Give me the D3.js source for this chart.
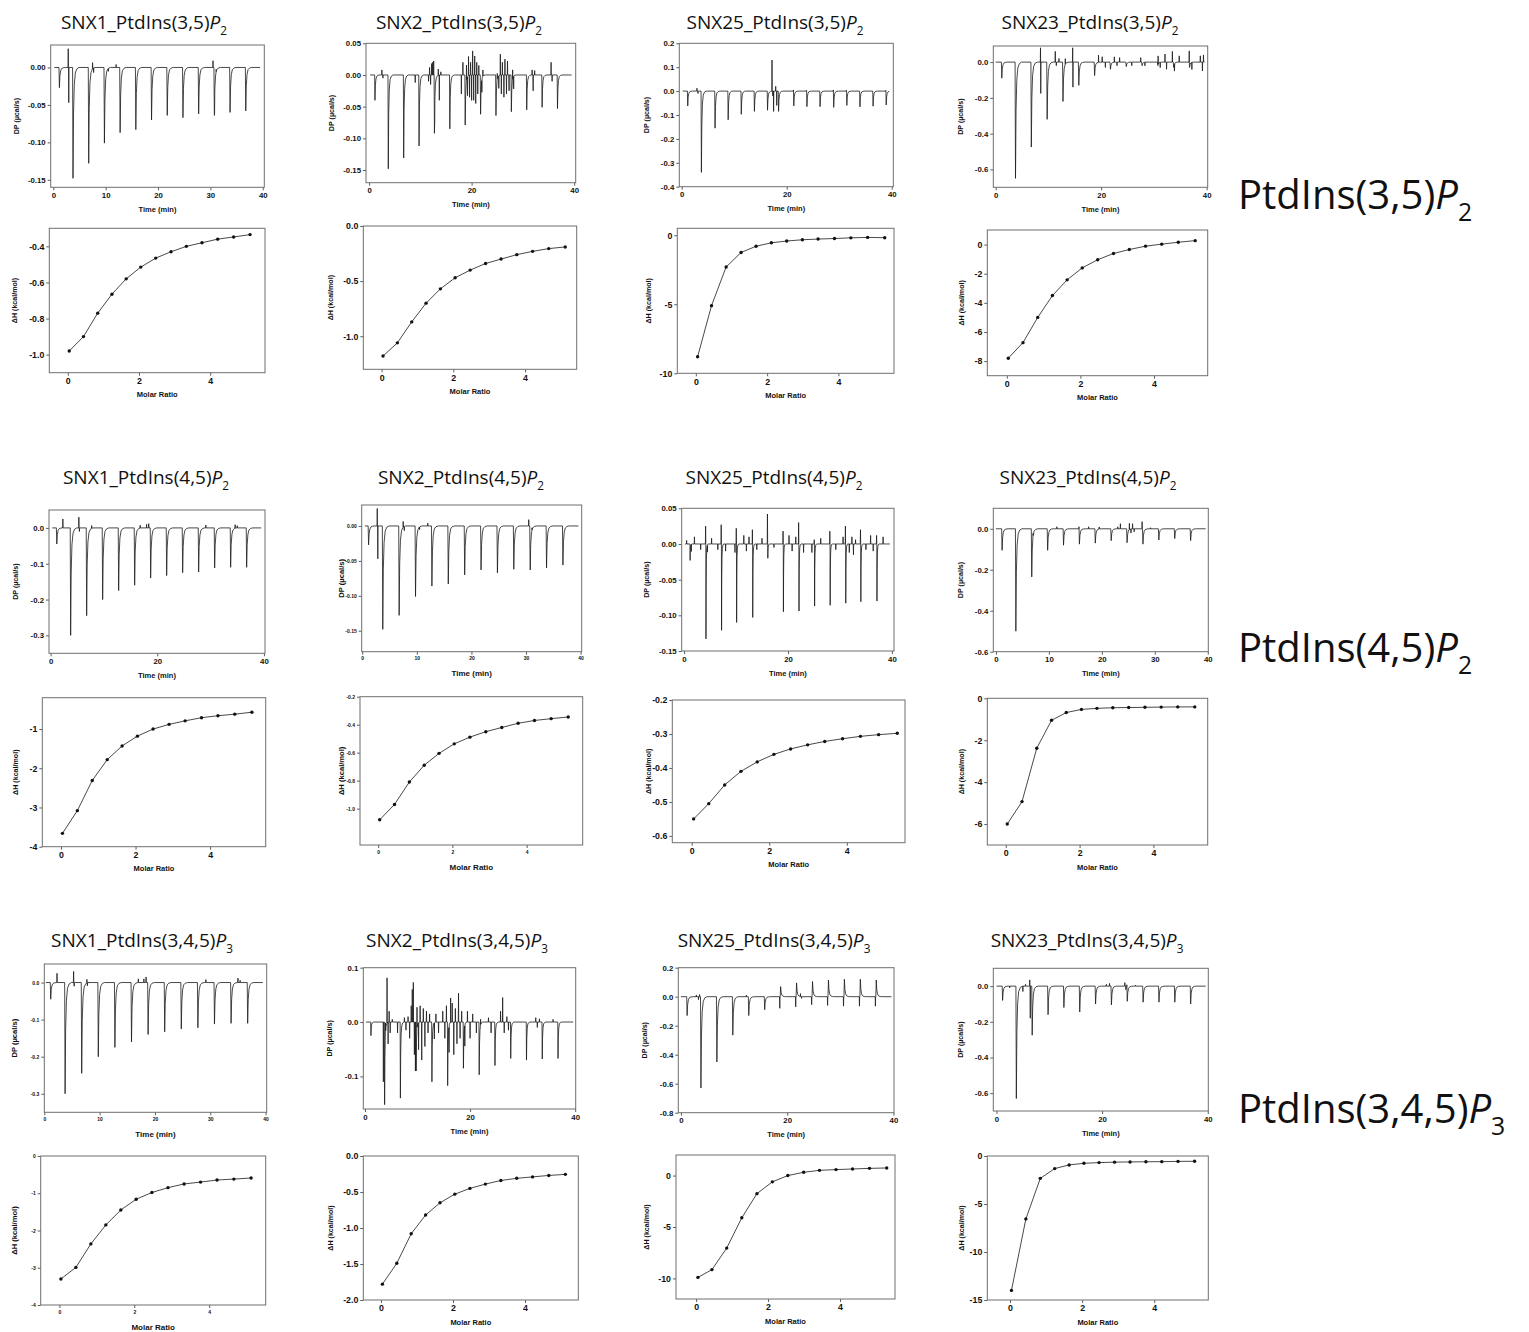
<!DOCTYPE html>
<html>
<head>
<meta charset="utf-8">
<script src="https://cdn.jsdelivr.net/npm/d3@7"></script>
<style>
  body { margin: 0; background: #fff; }
  svg { display: block; }
</style>
</head>
<body>
<svg id="fig" width="1529" height="1332"></svg>
<script>
// ---------------------------------------------------------------
// Injection schedules (min)
const injTimes = [1.1, 3.7, 6.7, 9.7, 12.7, 15.7, 18.7, 21.7, 24.7, 27.7, 30.7, 33.7, 36.7];
const injTimesSNX25_35 = [1.1, 3.7, 6.3, 8.8, 11.3, 13.8, 16.3, 18.4, 21.3, 23.8, 26.3, 28.9, 31.4, 33.9, 36.4, 38.9];
const injTimesSNX25_45 = [1.15, 4.2, 7.2, 10.1, 13.2, 16.1, 19.1, 22.1, 25.1, 28.1, 31.1, 34.0, 37.1];

// Molar ratio of each integrated injection
const molarRatio      = [0.04, 0.44, 0.84, 1.24, 1.64, 2.05, 2.47, 2.90, 3.33, 3.77, 4.21, 4.66, 5.12];
const molarRatioSNX25 = [0.05, 0.44, 0.85, 1.27, 1.69, 2.12, 2.55, 2.99, 3.43, 3.89, 4.35, 4.82, 5.30];

// Raw DP peak heights per injection (µcal/s)
const dpSNX1_35  = [-0.027, -0.148, -0.128, -0.101, -0.087, -0.083, -0.070, -0.064, -0.067, -0.062, -0.064, -0.060, -0.058];
const dpSNX2_35  = [-0.040, -0.148, -0.131, -0.112, -0.092, -0.085, -0.079, -0.062, -0.064, -0.058, -0.055, -0.051, -0.053];
const dpSNX25_35 = [-0.062, -0.340, -0.155, -0.120, -0.097, -0.085, -0.080, -0.085, -0.062, -0.065, -0.065, -0.068, -0.060, -0.066, -0.063, -0.058];
const dpSNX23_35 = [-0.090, -0.650, -0.475, -0.320, -0.220, -0.130, -0.075, -0.040, -0.025, -0.020, -0.020, -0.030, -0.030];
const dpSNX1_45  = [-0.045, -0.300, -0.245, -0.200, -0.175, -0.160, -0.140, -0.133, -0.125, -0.123, -0.112, -0.110, -0.110];
const dpSNX2_45  = [-0.027, -0.148, -0.128, -0.101, -0.086, -0.083, -0.070, -0.063, -0.067, -0.062, -0.063, -0.060, -0.056];
const dpSNX25_45 = [-0.023, -0.133, -0.121, -0.110, -0.103, -0.020, -0.095, -0.094, -0.087, -0.086, -0.083, -0.081, -0.080];
const dpSNX23_45 = [-0.105, -0.500, -0.235, -0.105, -0.080, -0.075, -0.070, -0.058, -0.068, -0.075, -0.055, -0.048, -0.058];
const dpSNX1_345  = [-0.045, -0.300, -0.245, -0.200, -0.175, -0.160, -0.140, -0.133, -0.125, -0.122, -0.112, -0.110, -0.110];
const dpSNX2_345  = [-0.025, -0.152, -0.140, -0.090, -0.110, -0.117, -0.085, -0.097, -0.080, -0.067, -0.070, -0.068, -0.067];
const dpSNX25_345 = [-0.130, -0.630, -0.450, -0.265, -0.130, -0.090, 0.070, 0.095, 0.105, 0.115, 0.120, 0.120, 0.115];
const dpSNX23_345 = [-0.080, -0.630, -0.275, -0.160, -0.120, -0.145, -0.100, -0.105, -0.085, -0.090, -0.090, -0.090, -0.100];

// Mixing spikes and baseline excursions [time (min), DP (µcal/s)]
const spkSNX1_35 = [[2.85, 0.025], [2.95, -0.047], [7.5, 0.008], [7.7, -0.006], [10.5, -0.004], [12.0, 0.004], [30.5, 0.009], [30.8, -0.012], [31.1, 0.004]];
const spkSNX2_35 = [[2.5, 0.008], [2.7, -0.005], [9.0, -0.012], [11.6, -0.01], [11.8, 0.012], [12.0, -0.015], [12.2, 0.018], [12.4, 0.02], [12.6, 0.022], [12.8, -0.02], [13.5, 0.01], [13.7, -0.04], [14.0, 0.005],
  [18.0, -0.03], [18.3, 0.02], [19.0, 0.025], [19.2, -0.03], [19.4, 0.03], [19.6, -0.035], [19.8, 0.02], [20.0, -0.04], [20.2, 0.038], [20.4, -0.04], [20.6, 0.03], [20.8, -0.045], [21.0, 0.02], [21.2, -0.03], [21.4, 0.015], [22.0, -0.02], [22.2, 0.01],
  [25.0, 0.01], [25.3, -0.02], [25.6, 0.033], [25.8, -0.03], [26.0, 0.02], [26.3, -0.035], [26.5, 0.025], [26.8, -0.03], [27.0, 0.022], [27.3, -0.025], [28.0, 0.015], [28.2, -0.02],
  [31.8, 0.008], [32.0, -0.025], [32.3, 0.007], [35.5, 0.02], [35.7, -0.01]];
const spkSNX25_35 = [[2.9, 0.012], [3.1, -0.01], [17.2, 0.13], [17.35, -0.02], [17.5, -0.085], [17.9, 0.02], [18.1, -0.06], [21.3, 0.008], [23.8, 0.005], [28.9, 0.008], [31.4, 0.006], [38.9, 0.005]];
const spkSNX23_35 = [[8.5, 0.08], [8.55, -0.175], [11.3, 0.06], [11.5, -0.02], [12.0, 0.02], [13.2, 0.03], [14.6, 0.08], [14.65, -0.14], [19.5, 0.04], [20.2, 0.03], [20.8, -0.03], [22.5, 0.03], [23.0, -0.02], [23.5, 0.025], [25.8, -0.02], [27.5, 0.025], [28.3, -0.02],
  [30.8, 0.05], [31.2, -0.03], [32.1, 0.045], [32.4, -0.04], [33.5, 0.06], [33.9, -0.04], [34.8, 0.035], [36.7, 0.07], [37.2, -0.04], [38.8, 0.035], [39.2, -0.05], [39.4, 0.04]];
const spkSNX1_45 = [[2.3, 0.025], [5.3, 0.03], [5.4, -0.01], [7.7, 0.008], [16.8, 0.008], [18.0, 0.01], [18.4, 0.012], [29.1, 0.008], [34.6, 0.01], [35.0, 0.006]];
const spkSNX2_45 = [[2.75, 0.025], [2.85, -0.047], [7.5, 0.008], [7.7, -0.006], [10.5, -0.004], [12.0, 0.004], [30.5, 0.009], [30.8, -0.012], [31.1, 0.004]];
const spkSNX25_45 = [[4.15, 0.025], [7.15, 0.027], [10.05, 0.022], [13.15, 0.02], [16.05, 0.042], [19.05, 0.018], [22.05, 0.03], [25.05, 0.006], [28.05, 0.018], [31.05, 0.025], [33.95, 0.02], [37.05, 0.012],
  [0.5, 0.005], [1.4, -0.01], [2.0, 0.01], [3.2, -0.008], [4.5, -0.01], [5.3, 0.008], [6.5, -0.008], [8.0, -0.01], [9.8, -0.012], [11.5, 0.012], [12.0, -0.01], [12.5, 0.01], [14.0, -0.008], [15.0, 0.008],
  [17.3, -0.005], [20.2, 0.012], [20.8, -0.01], [21.5, 0.01], [23.0, -0.012], [24.6, -0.012], [26.3, 0.008], [29.2, -0.008], [30.6, 0.01], [31.8, -0.012], [32.3, 0.01], [32.6, -0.015], [33.0, 0.006], [35.0, -0.008], [35.9, 0.012], [36.4, -0.01], [38.3, 0.01]];
const spkSNX23_45 = [[7.0, 0.015], [11.5, 0.01], [15.7, 0.02], [17.5, 0.01], [19.5, 0.01], [23.0, 0.01], [23.5, 0.025], [25.2, 0.03], [25.5, -0.02], [25.8, 0.025], [26.1, -0.015], [27.6, 0.035], [29.2, 0.005]];
const spkSNX1_345 = [[2.3, 0.025], [5.3, 0.03], [5.4, -0.01], [7.7, 0.01], [7.8, -0.008], [17.0, 0.01], [18.0, 0.01], [18.4, 0.015], [29.2, 0.008], [35.0, 0.012], [35.4, 0.006]];
const spkSNX2_345 = [[3.5, -0.11], [3.9, 0.02], [4.2, 0.083], [4.4, -0.04], [4.6, 0.02], [4.8, -0.02], [5.2, 0.005], [6.2, -0.02], [7.5, 0.008], [7.8, -0.015], [8.2, 0.01], [8.5, -0.03], [8.8, 0.03], [9.0, 0.06], [9.2, 0.073], [9.4, -0.06], [9.6, -0.09],
  [9.9, 0.04], [10.2, -0.05], [10.5, 0.03], [10.8, -0.07], [11.1, 0.025], [11.4, -0.045], [11.7, 0.02], [12.0, -0.02], [12.3, 0.015], [13.2, -0.03], [13.5, 0.015], [14.0, -0.02], [14.8, 0.02], [15.2, -0.03], [15.5, 0.03],
  [16.0, -0.05], [16.3, 0.045], [16.6, 0.035], [16.9, -0.06], [17.2, 0.025], [17.5, -0.04], [17.8, 0.053], [18.1, -0.03], [18.4, 0.02], [19.0, -0.04], [19.5, 0.02], [20.0, -0.03], [20.5, 0.015], [21.2, -0.02], [22.0, 0.01],
  [23.5, 0.008], [24.0, -0.02], [25.8, 0.02], [26.2, 0.045], [26.5, -0.02], [27.0, 0.01], [27.3, -0.015], [32.5, 0.008], [32.8, -0.01], [33.2, 0.006], [35.8, 0.005]];
const spkSNX25_345 = [[2.9, 0.012], [3.3, -0.02], [3.5, 0.015], [12.3, 0.01], [18.6, -0.08], [21.6, -0.07], [24.6, -0.055], [27.6, -0.06], [30.6, -0.065], [33.6, -0.065], [36.6, -0.065], [22.5, 0.02], [22.7, -0.012]];
const spkSNX23_345 = [[2.5, -0.01], [5.0, -0.03], [5.5, 0.01], [6.3, 0.035], [6.4, -0.18], [9.8, -0.02], [20.8, 0.01], [21.4, 0.015], [24.3, 0.02], [24.5, -0.02], [24.7, 0.015], [26.3, 0.005]];

// Integrated heats (kcal/mol of injectant)
const dhSNX1_35  = [-0.98, -0.90, -0.77, -0.665, -0.58, -0.515, -0.465, -0.43, -0.40, -0.38, -0.36, -0.348, -0.335];
const dhSNX2_35  = [-1.18, -1.06, -0.87, -0.70, -0.57, -0.47, -0.40, -0.34, -0.30, -0.26, -0.23, -0.205, -0.19];
const dhSNX25_35 = [-8.8, -5.1, -2.3, -1.25, -0.80, -0.55, -0.42, -0.33, -0.28, -0.24, -0.19, -0.16, -0.18];
const dhSNX23_35 = [-7.8, -6.73, -5.0, -3.5, -2.42, -1.6, -1.04, -0.61, -0.34, -0.11, 0.03, 0.16, 0.27];
const dhSNX1_45  = [-3.66, -3.08, -2.31, -1.78, -1.43, -1.18, -1.0, -0.88, -0.79, -0.71, -0.66, -0.62, -0.57];
const dhSNX2_45  = [-1.08, -0.97, -0.81, -0.69, -0.605, -0.537, -0.489, -0.45, -0.42, -0.39, -0.37, -0.357, -0.345];
const dhSNX25_45 = [-0.55, -0.505, -0.45, -0.41, -0.382, -0.36, -0.344, -0.332, -0.322, -0.314, -0.307, -0.302, -0.298];
const dhSNX23_45 = [-6.0, -4.93, -2.38, -1.05, -0.68, -0.53, -0.48, -0.45, -0.44, -0.43, -0.42, -0.41, -0.41];
const dhSNX1_345  = [-3.30, -2.99, -2.36, -1.85, -1.45, -1.16, -0.98, -0.85, -0.75, -0.70, -0.645, -0.62, -0.59];
const dhSNX2_345  = [-1.78, -1.49, -1.08, -0.82, -0.65, -0.53, -0.45, -0.39, -0.34, -0.31, -0.29, -0.27, -0.255];
const dhSNX25_345 = [-9.9, -9.14, -7.05, -4.1, -1.76, -0.61, 0.0, 0.32, 0.51, 0.58, 0.64, 0.70, 0.74];
const dhSNX23_345 = [-14.0, -6.55, -2.33, -1.31, -0.93, -0.76, -0.69, -0.64, -0.62, -0.60, -0.59, -0.56, -0.55];

// Tick values
const timeTicks10 = [0, 10, 20, 30, 40];
const timeTicks20 = [0, 20, 40];
const ratioTicks = [0, 2, 4];
const dpTicksA = [0, -0.05, -0.10, -0.15];
const dpTicksB = [0.05, 0, -0.05, -0.10, -0.15];
const dpTicksC = [0.2, 0.1, 0, -0.1, -0.2, -0.3, -0.4];
const dpTicksD = [0, -0.2, -0.4, -0.6];
const dpTicksE = [0, -0.1, -0.2, -0.3];
const dpTicksF = [0.1, 0, -0.1];
const dpTicksG = [0.2, 0, -0.2, -0.4, -0.6, -0.8];
const dhTicksSNX1_35 = [-0.4, -0.6, -0.8, -1.0];
const dhTicksSNX2_35 = [0, -0.5, -1.0];
const dhTicksSNX25_35 = [0, -5, -10];
const dhTicksSNX23_35 = [0, -2, -4, -6, -8];
const dhTicksSNX1_45 = [-1, -2, -3, -4];
const dhTicksSNX2_45 = [-0.2, -0.4, -0.6, -0.8, -1.0];
const dhTicksSNX25_45 = [-0.2, -0.3, -0.4, -0.5, -0.6];
const dhTicksSNX23_45 = [0, -2, -4, -6];
const dhTicksSNX1_345 = [0, -1, -2, -3, -4];
const dhTicksSNX2_345 = [0, -0.5, -1.0, -1.5, -2.0];
const dhTicksSNX25_345 = [0, -5, -10];
const dhTicksSNX23_345 = [0, -5, -10, -15];

// Row labels
const lipidLabels = [["PtdIns(3,5)", "2"], ["PtdIns(4,5)", "2"], ["PtdIns(3,4,5)", "3"]];

// ---------------------------------------------------------------
// Panel layout: plot boxes [x0, y0, x1, y1] and axis domains
const panels = [
  { title: "SNX1_PtdIns(3,5)", sub: "2", tx: 144, ty: 29,
    times: injTimes, dp: dpSNX1_35, spk: spkSNX1_35, mr: molarRatio, dh: dhSNX1_35, span: [0.2, 39.5],
    dpBox: [50.7, 45, 264.3, 187.3], dpX: [-0.5, 40.3], dpY: [-0.16, 0.03], dpXT: timeTicks10, dpYT: dpTicksA, dpFmt: ".2f",
    dhBox: [49.3, 228.3, 265, 372.7], dhX: [-0.52, 5.54], dhY: [-1.1, -0.3], dhYT: dhTicksSNX1_35, dhFmt: ".1f",
    labX: [16.7, 15], fs: [7.8, 8.8] },
  { title: "SNX2_PtdIns(3,5)", sub: "2", tx: 459, ty: 29, pw: 0.8,
    times: injTimes, dp: dpSNX2_35, spk: spkSNX2_35, mr: molarRatio, dh: dhSNX2_35, span: [0.2, 39.5],
    dpBox: [366, 43.3, 575.7, 182.7], dpX: [-0.6, 40.3], dpY: [-0.17, 0.05], dpXT: timeTicks20, dpYT: dpTicksB, dpFmt: ".2f",
    dhBox: [363.3, 226, 576.7, 369.3], dhX: [-0.51, 5.44], dhY: [-1.3, 0], dhYT: dhTicksSNX2_35, dhFmt: ".1f",
    labX: [331.7, 330.7], fs: [7.8, 8.8] },
  { title: "SNX25_PtdIns(3,5)", sub: "2", tx: 775, ty: 29, pw: 0.8,
    times: injTimesSNX25_35, dp: dpSNX25_35, spk: spkSNX25_35, mr: molarRatioSNX25, dh: dhSNX25_35, span: [0.2, 39.5],
    dpBox: [679.3, 43.3, 893.3, 186.7], dpX: [-0.46, 40.3], dpY: [-0.4, 0.2], dpXT: timeTicks20, dpYT: dpTicksC, dpFmt: ".1f",
    dhBox: [677.3, 228.3, 894, 373.3], dhX: [-0.52, 5.56], dhY: [-10, 0.5], dhYT: dhTicksSNX25_35, dhFmt: "d",
    labX: [647.3, 649.3], fs: [7.8, 8.8] },
  { title: "SNX23_PtdIns(3,5)", sub: "2", tx: 1090, ty: 29,
    times: injTimes, dp: dpSNX23_35, spk: spkSNX23_35, mr: molarRatio, dh: dhSNX23_35, span: [0.0, 39.6],
    dpBox: [993.3, 46, 1207.7, 187.3], dpX: [-0.45, 40.2], dpY: [-0.7, 0.09], dpXT: timeTicks20, dpYT: dpTicksD, dpFmt: ".1f",
    dhBox: [987.3, 230, 1207.7, 375.7], dhX: [-0.53, 5.46], dhY: [-9, 1], dhYT: dhTicksSNX23_35, dhFmt: "d",
    labX: [960.7, 961.7], fs: [7.8, 8.8] },

  { title: "SNX1_PtdIns(4,5)", sub: "2", tx: 146, ty: 484,
    times: injTimes, dp: dpSNX1_45, spk: spkSNX1_45, mr: molarRatio, dh: dhSNX1_45, span: [0.3, 39.5],
    dpBox: [49, 510, 265, 653.3], dpX: [-0.3, 40.2], dpY: [-0.35, 0.05], dpXT: timeTicks20, dpYT: dpTicksE, dpFmt: ".1f",
    dhBox: [42.3, 697.7, 265.7, 846.7], dhX: [-0.5, 5.49], dhY: [-4, -0.2], dhYT: dhTicksSNX1_45, dhFmt: "d",
    labX: [16, 16], fs: [7.8, 8.8] },
  { title: "SNX2_PtdIns(4,5)", sub: "2", tx: 461, ty: 484,
    times: injTimes, dp: dpSNX2_45, spk: spkSNX2_45, mr: molarRatio, dh: dhSNX2_45, span: [0.5, 39.6],
    dpBox: [361.7, 505, 581.7, 651.7], dpX: [-0.1, 40.2], dpY: [-0.18, 0.03], dpXT: timeTicks10, dpYT: dpTicksA, dpFmt: ".2f",
    dhBox: [360, 696.7, 582.7, 845], dhX: [-0.49, 5.51], dhY: [-1.26, -0.2], dhYT: dhTicksSNX2_45, dhFmt: ".1f",
    labX: [341.7, 341.7], fs: [5, 5], axFs: 8 },
  { title: "SNX25_PtdIns(4,5)", sub: "2", tx: 774, ty: 484, pw: 0.35,
    times: injTimesSNX25_45, dp: dpSNX25_45, spk: spkSNX25_45, mr: molarRatioSNX25, dh: dhSNX25_45, span: [0.2, 39.6],
    dpBox: [681.7, 508.3, 894, 651], dpX: [-0.45, 40.4], dpY: [-0.15, 0.05], dpXT: timeTicks20, dpYT: dpTicksB, dpFmt: ".2f",
    dhBox: [672.3, 700, 905, 842.7], dhX: [-0.5, 5.5], dhY: [-0.62, -0.2], dhYT: dhTicksSNX25_45, dhFmt: ".1f",
    labX: [646.7, 649], fs: [7.8, 8.8] },
  { title: "SNX23_PtdIns(4,5)", sub: "2", tx: 1088, ty: 484,
    times: injTimes, dp: dpSNX23_45, spk: spkSNX23_45, mr: molarRatio, dh: dhSNX23_45, span: [0.0, 39.6],
    dpBox: [993.3, 508.3, 1208.3, 651.7], dpX: [-0.5, 40.1], dpY: [-0.6, 0.1], dpXT: timeTicks10, dpYT: dpTicksD, dpFmt: ".1f",
    dhBox: [987.3, 698.3, 1207.7, 845], dhX: [-0.5, 5.47], dhY: [-7, 0], dhYT: dhTicksSNX23_45, dhFmt: "d",
    labX: [960.7, 961.7], fs: [7.8, 8.8] },

  { title: "SNX1_PtdIns(3,4,5)", sub: "3", tx: 142, ty: 947,
    times: injTimes, dp: dpSNX1_345, spk: spkSNX1_345, mr: molarRatio, dh: dhSNX1_345, span: [0.3, 39.5],
    dpBox: [44.3, 964, 266.7, 1112.3], dpX: [0, 40.2], dpY: [-0.35, 0.05], dpXT: timeTicks10, dpYT: dpTicksE, dpFmt: ".1f",
    dhBox: [40.7, 1156, 265.7, 1305], dhX: [-0.5, 5.51], dhY: [-4, 0], dhYT: dhTicksSNX1_345, dhFmt: "d",
    labX: [15, 15], fs: [5, 5], axFs: 8 },
  { title: "SNX2_PtdIns(3,4,5)", sub: "3", tx: 457, ty: 947, pw: 0.6,
    times: injTimes, dp: dpSNX2_345, spk: spkSNX2_345, mr: molarRatio, dh: dhSNX2_345, span: [0.2, 39.6],
    dpBox: [363.3, 967.7, 575.7, 1109], dpX: [-0.32, 40.1], dpY: [-0.16, 0.1], dpXT: timeTicks20, dpYT: dpTicksF, dpFmt: ".1f",
    dhBox: [363.3, 1156, 578.3, 1300], dhX: [-0.49, 5.48], dhY: [-2, 0], dhYT: dhTicksSNX2_345, dhFmt: ".1f",
    labX: [330, 330.7], fs: [7.8, 8.8] },
  { title: "SNX25_PtdIns(3,4,5)", sub: "3", tx: 774, ty: 947,
    times: injTimes, dp: dpSNX25_345, spk: spkSNX25_345, mr: molarRatioSNX25, dh: dhSNX25_345, span: [0.0, 39.6],
    dpBox: [678.3, 967.7, 894, 1112.7], dpX: [-0.5, 40.1], dpY: [-0.8, 0.2], dpXT: timeTicks20, dpYT: dpTicksG, dpFmt: ".1f",
    dhBox: [676, 1155, 895, 1299], dhX: [-0.56, 5.53], dhY: [-12, 2], dhYT: dhTicksSNX25_345, dhFmt: "d",
    labX: [645, 646.7], fs: [7.8, 8.8] },
  { title: "SNX23_PtdIns(3,4,5)", sub: "3", tx: 1087, ty: 947,
    times: injTimes, dp: dpSNX23_345, spk: spkSNX23_345, mr: molarRatio, dh: dhSNX23_345, span: [0.0, 39.6],
    dpBox: [993.3, 968.3, 1208.3, 1111], dpX: [-0.6, 40.1], dpY: [-0.7, 0.1], dpXT: timeTicks20, dpYT: dpTicksD, dpFmt: ".1f",
    dhBox: [987.3, 1156, 1208.3, 1300], dhX: [-0.63, 5.5], dhY: [-15, 0], dhYT: dhTicksSNX23_345, dhFmt: "d",
    labX: [960.7, 961.7], fs: [7.8, 8.8] }
];

const rowLabelPos = [[1238, 209], [1238, 662], [1238, 1123]];

// ---------------------------------------------------------------
const svg = d3.select("#fig");
const AXIS_FONT = '"Liberation Sans", Arial, Helvetica, sans-serif';
const TITLE_FONT = '"Open Sans", "Noto Sans", sans-serif';

// Shape of one injection peak (fast rise, quick return) and of a mixing spike; times in min
const PEAK_SHAPE = [[-0.02, 0], [0.06, 1], [0.16, 0.42], [0.3, 0.16], [0.5, 0.05], [0.8, 0.012], [1.2, 0]];
const SPIKE_SHAPE = [[-0.04, 0], [0, 1], [0.04, 0]];

function place(t0, v, shape, w) { return shape.map(([dt, f]) => [t0 + dt * w, v * f]); }
function evalPiecewise(ev, t) {
  if (t <= ev[0][0] || t >= ev[ev.length - 1][0]) return 0;
  for (let i = 1; i < ev.length; i++) {
    if (t <= ev[i][0]) {
      const [t0, v0] = ev[i - 1], [t1, v1] = ev[i];
      return v0 + (v1 - v0) * (t - t0) / (t1 - t0);
    }
  }
  return 0;
}
function buildTrace(times, heights, spikes, span, w) {
  const events = times.map((t, i) => place(t, heights[i], PEAK_SHAPE, w))
    .concat(spikes.map(([t, v]) => place(t, v, SPIKE_SHAPE, 1)));
  const knots = new Set([span[0], span[1]]);
  events.forEach(ev => ev.forEach(p => knots.add(+p[0].toFixed(4))));
  const ts = [...knots].filter(t => t >= span[0] && t <= span[1]).sort((a, b) => a - b);
  return ts.map(t => [t, d3.sum(events, ev => evalPiecewise(ev, t))]);
}

function fmtTick(spec) {
  const f = d3.format(spec);
  return d => f(d).replace("\u2212", "-");
}

let clipId = 0;
function drawFrame(g, box, xDom, yDom, xTicks, yTicks, yFmt, xFmt, fs) {
  const [x0, y0, x1, y1] = box;
  const x = d3.scaleLinear().domain(xDom).range([x0, x1]);
  const y = d3.scaleLinear().domain(yDom).range([y1, y0]);

  const ax = g.append("g").attr("transform", `translate(0,${y1})`)
    .call(d3.axisBottom(x).tickValues(xTicks).tickFormat(xFmt).tickSize(3).tickPadding(2));
  const ay = g.append("g").attr("transform", `translate(${x0},0)`)
    .call(d3.axisLeft(y).tickValues(yTicks).tickFormat(fmtTick(yFmt)).tickSize(3).tickPadding(2));
  [ax, ay].forEach(a => {
    a.select(".domain").remove();
    a.selectAll(".tick line").attr("stroke", "#333").attr("stroke-width", 0.8);
    a.selectAll(".tick text").attr("font-family", AXIS_FONT).attr("font-weight", "bold")
      .attr("font-size", fs).attr("fill", "#111");
  });

  g.append("rect").attr("x", x0).attr("y", y0).attr("width", x1 - x0).attr("height", y1 - y0)
    .attr("fill", "none").attr("stroke", "#6e6e6e").attr("stroke-width", 1);

  const id = "clip" + (clipId++);
  g.append("clipPath").attr("id", id).append("rect")
    .attr("x", x0).attr("y", y0).attr("width", x1 - x0).attr("height", y1 - y0);
  return { x, y, clip: `url(#${id})` };
}

function axisTitles(g, box, xTitle, yTitle, labX, fs) {
  const [x0, y0, x1, y1] = box;
  g.append("text").attr("x", (x0 + x1) / 2).attr("y", y1 + 24.5).attr("text-anchor", "middle")
    .attr("font-family", AXIS_FONT).attr("font-weight", "bold").attr("font-size", fs).attr("fill", "#111")
    .text(xTitle);
  g.append("text").attr("transform", `translate(${labX},${(y0 + y1) / 2}) rotate(-90)`)
    .attr("text-anchor", "middle").attr("dominant-baseline", "middle")
    .attr("font-family", AXIS_FONT).attr("font-weight", "bold").attr("font-size", fs * 0.95).attr("fill", "#111")
    .text(yTitle);
}

function chemText(g, x, y, anchor, prefix, sub, fs) {
  const t = g.append("text").attr("x", x).attr("y", y).attr("text-anchor", anchor)
    .attr("font-family", TITLE_FONT).attr("font-size", fs).attr("fill", "#111");
  t.append("tspan").text(prefix);
  t.append("tspan").attr("font-style", "italic").text("P");
  t.append("tspan").attr("font-size", fs * 0.62).attr("dy", fs * 0.3).text(sub);
  return t;
}

panels.forEach(p => {
  const g = svg.append("g");
  const axFs = p.axFs || 7.5;

  chemText(g, p.tx, p.ty, "middle", p.title, p.sub, 19);

  // Raw thermogram
  const dpF = drawFrame(g, p.dpBox, p.dpX, p.dpY, p.dpXT, p.dpYT, p.dpFmt, d3.format("d"), p.fs[0]);
  const trace = buildTrace(p.times, p.dp, p.spk, p.span, p.pw || 1);
  g.append("path").datum(trace).attr("clip-path", dpF.clip)
    .attr("fill", "none").attr("stroke", "#1a1a1a").attr("stroke-width", 0.8).attr("stroke-linejoin", "round")
    .attr("d", d3.line().x(d => dpF.x(d[0])).y(d => dpF.y(d[1])));
  axisTitles(g, p.dpBox, "Time (min)", "DP (\u00b5cal/s)", p.labX[0], axFs);

  // Integrated heats
  const dhF = drawFrame(g, p.dhBox, p.dhX, p.dhY, ratioTicks, p.dhYT, p.dhFmt, d3.format("d"), p.fs[1]);
  const pts = p.mr.map((m, i) => [m, p.dh[i]]);
  g.append("path").datum(pts).attr("fill", "none").attr("stroke", "#1a1a1a").attr("stroke-width", 0.8)
    .attr("d", d3.line().x(d => dhF.x(d[0])).y(d => dhF.y(d[1])));
  g.selectAll(null).data(pts).enter().append("circle")
    .attr("cx", d => dhF.x(d[0])).attr("cy", d => dhF.y(d[1])).attr("r", 1.7).attr("fill", "#111");
  axisTitles(g, p.dhBox, "Molar Ratio", "\u0394H (kcal/mol)", p.labX[1], axFs);
});

// Lipid labels at the right of each row
lipidLabels.forEach(([prefix, sub], i) => {
  chemText(svg, rowLabelPos[i][0], rowLabelPos[i][1], "start", prefix, sub, 40);
});
</script>
</body>
</html>
